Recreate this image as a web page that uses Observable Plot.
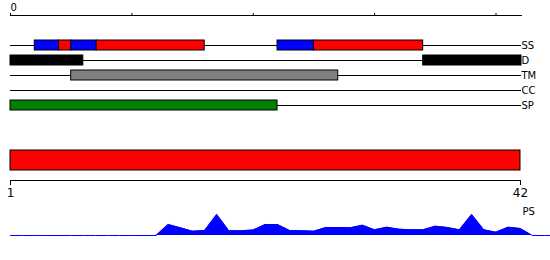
<!DOCTYPE html>
<html><head><meta charset="utf-8">
<script src="https://cdn.jsdelivr.net/npm/d3@7"></script>
<script src="https://cdn.jsdelivr.net/npm/@observablehq/plot@0.6"></script>
<style>
html,body{margin:0;padding:0;background:#fff;overflow:hidden;}
#chart{width:550px;height:260px;position:relative;}
#chart svg{display:block;overflow:hidden;}
</style></head><body><div id="chart"></div>
<script>
// sequence ruler
const seqLength = 421;
const rulerTicks = [0, 100, 200, 300, 400];
// feature tracks
const tracks = ["SS", "D", "TM", "CC", "SP"];
const featTrack = ["SS", "SS", "SS", "SS", "SS", "SS", "D", "D", "TM", "SP"];
const featStart = [20, 40, 50, 71, 220, 250, 0, 340, 50, 0];
const featEnd   = [40, 50, 71, 160, 250, 340, 60, 421, 270, 220];
const featKind  = ["strand", "helix", "strand", "helix", "strand", "helix", "disorder", "disorder", "transmembrane", "signal"];
const kinds = ["strand", "helix", "disorder", "transmembrane", "signal"];
const kindColors = ["#0000ff", "#ff0000", "#000000", "#808080", "#008000"];
// PS track
const psLabel = "PS";
const psRange = [1, 42];
const psPos = [0, 10, 20, 30, 40, 50, 60, 70, 80, 90, 100, 110, 120, 130, 140, 150, 160, 170, 180, 190, 200, 210, 220, 230, 240, 250, 260, 270, 280, 290, 300, 310, 320, 330, 340, 350, 360, 370, 380, 390, 400, 410, 420, 430, 440, 450];
const psScore = [0, 0, 0, 0, 0, 0, 0, 0, 0, 0, 0, 0, 0, 11, 7.7, 4.3, 5, 21, 4.7, 4.7, 5.5, 11, 11, 5, 4.7, 4.3, 8, 8, 7.7, 10.3, 5.7, 8.3, 6.3, 5.7, 5.7, 9.3, 8, 5.7, 21, 5.7, 3.3, 8.3, 7, 0, 0, 0];

const features = featTrack.map((t, i) => ({track: t, start: featStart[i], end: featEnd[i], kind: featKind[i]}));
const psData = psPos.map((p, i) => ({pos: p, score: psScore[i]}));
const font = "'DejaVu Sans', sans-serif";
const baseStyle = {fontFamily: font, fontSize: "10px", background: "white", color: "black"};

const topPlot = Plot.plot({
  width: 550, height: 115, marginLeft: 10, marginRight: 29, marginTop: 15, marginBottom: 0,
  style: baseStyle,
  x: {domain: [0, seqLength]},
  y: {type: "band", domain: tracks, range: [37.5, 112.5], padding: 0, round: false, axis: null},
  color: {domain: kinds, range: kindColors},
  marks: [
    Plot.frame({anchor: "top"}),
    Plot.axisX({anchor: "top", ticks: rulerTicks, tickSize: 3, tickPadding: 2, tickFormat: d => d === 0 ? "0" : "", textAnchor: "start", fontSize: 10}),
    Plot.ruleY(tracks, {y: d => d, x1: () => 0, x2: () => seqLength, stroke: "black"}),
    Plot.barX(features, {y: "track", x1: "start", x2: "end", fill: "kind", stroke: "black", insetTop: 2.5, insetBottom: 2.5}),
    Plot.text(tracks, {y: d => d, x: () => seqLength, text: d => d, textAnchor: "start", fontSize: 10})
  ]
});

const midPlot = Plot.plot({
  width: 550, height: 90, marginLeft: 10, marginRight: 30, marginTop: 0, marginBottom: 25,
  style: baseStyle,
  x: {domain: psRange},
  y: {type: "band", domain: [psLabel], range: [35, 55], padding: 0, round: false, axis: null},
  marks: [
    Plot.barX([psRange], {y: () => psLabel, x1: d => d[0], x2: d => d[1], fill: "#ff0000", stroke: "black"}),
    Plot.frame({anchor: "bottom"}),
    Plot.axisX({anchor: "bottom", ticks: psRange, tickSize: 5, tickPadding: 3, fontSize: 12})
  ]
});

const botPlot = Plot.plot({
  width: 550, height: 55, marginLeft: 10, marginRight: 29, marginTop: 0, marginBottom: 0,
  style: baseStyle,
  x: {domain: [0, seqLength], axis: null},
  y: {domain: [0, 21], range: [30, 9], axis: null},
  marks: [
    Plot.areaY(psData, {x: "pos", y: "score", fill: "#0000ff"}),
    Plot.lineY(psData, {x: "pos", y: "score", stroke: "#0000ff", strokeWidth: 1}),
    Plot.text([psLabel], {frameAnchor: "top-right", text: d => d, textAnchor: "start", lineAnchor: "top", dx: 1, dy: 2, fontSize: 10})
  ]
});

const chart = document.getElementById("chart");
chart.append(topPlot, midPlot, botPlot);
</script>
</body></html>
